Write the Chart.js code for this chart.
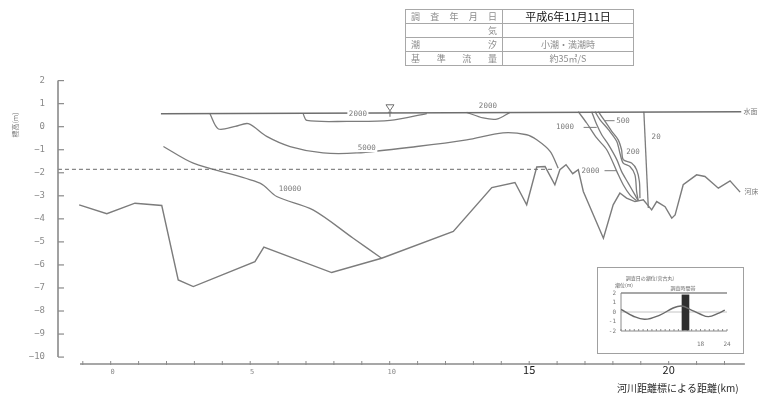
<!DOCTYPE html>
<html>
<head>
<meta charset="utf-8">
<script src="https://cdn.jsdelivr.net/npm/chart.js@4/dist/chart.umd.min.js"></script>
<style>
  html, body { margin: 0; padding: 0; background: #fff; }
  #wrap { position: relative; width: 758px; height: 394px; overflow: hidden; }
  #main { position: absolute; left: 0; top: 0; }
  #tide { position: absolute; left: 597px; top: 267px; }
  #info { position: absolute; left: 405px; top: 9px; border-collapse: collapse;
          font-family: "Noto Sans CJK JP", sans-serif; }
  #info td { border: 1px solid #a8a8a8; height: 13px; line-height: 13px; padding: 0 5px;
             font-size: 9px; color: #8c8c8c; white-space: nowrap; }
  #info td.lab { width: 86px; }
  #info td.val { width: 120px; text-align: center; }
  #info .sp { display: flex; justify-content: space-between; }
  #info .end { display: flex; justify-content: flex-end; }
  #info .date { color: #111; font-size: 11px; }
</style>
</head>
<body>
<div id="wrap">
  <canvas id="main" width="758" height="394"></canvas>
  <canvas id="tide" width="147" height="87"></canvas>
  <table id="info">
    <tr><td class="lab"><div class="sp"><span>調</span><span>査</span><span>年</span><span>月</span><span>日</span></div></td>
        <td class="val date">平成6年11月11日</td></tr>
    <tr><td class="lab"><div class="end"><span>気</span></div></td><td class="val"></td></tr>
    <tr><td class="lab"><div class="sp"><span>潮</span><span>汐</span></div></td><td class="val">小潮・満潮時</td></tr>
    <tr><td class="lab"><div class="sp"><span>基</span><span>準</span><span>流</span><span>量</span></div></td><td class="val">約35㎥/S</td></tr>
  </table>
</div>
<script>
// ---- longitudinal section: distance (km) vs elevation (m) ----
const yTicks = [2, 1, 0, -1, -2, -3, -4, -5, -6, -7, -8, -9, -10];
const kmTicks = [-1,0,1,2,3,4,5,6,7,8,9,10,11,12,13,14,15,16,17,18,19,20,21,22];
const kmLabels = [0, 5, 10, 15, 20];

const waterSurface = [[1.8, 0.56], [22.6, 0.65]];
const referenceLevel = [[-1.89, -1.85], [15.92, -1.85]];

const riverBed = [
  [-1.13,-3.39],[-0.14,-3.78],[0.87,-3.32],[1.83,-3.42],[2.42,-6.65],[2.96,-6.94],
  [5.17,-5.86],[5.49,-5.23],[7.92,-6.33],[9.71,-5.71],[12.28,-4.55],[13.66,-2.64],
  [14.49,-2.42],[14.91,-3.39],[15.27,-1.75],[15.57,-1.73],[15.92,-2.52],[16.10,-1.87],
  [16.32,-1.65],[16.56,-2.04],[16.76,-1.87],[16.94,-2.81],[17.66,-4.84],[18.01,-3.39],
  [18.25,-2.88],[18.49,-3.10],[18.79,-3.25],[19.09,-3.17],[19.39,-3.61],[19.57,-3.25],
  [19.87,-3.47],[20.11,-3.97],[20.23,-3.83],[20.52,-2.52],[21.00,-2.09],[21.30,-2.16],
  [21.78,-2.67],[22.20,-2.35],[22.56,-2.84]
];

// conductivity contours
const c10000 = [[1.89,-0.86],[2.96,-1.58],[5.35,-2.45],[5.95,-3.03],[7.25,-3.61],[8.68,-4.83],[9.71,-5.71]];
const c5000 = [[3.56,0.55],[3.86,-0.10],[4.46,0.01],[4.93,0.13],[5.59,-0.42],[6.43,-0.86],[7.61,-1.14],
  [8.82,-1.14],[10.97,-0.86],[12.76,-0.57],[14.06,-0.27],[14.91,-0.35],[15.27,-0.57],[15.75,-1.07],[16.04,-1.80]];
const c2000a = [[6.90,0.55],[7.03,0.27],[8.46,0.23],[10.01,0.27],[11.33,0.57]];
const c2000b = [[12.76,0.62],[13.35,0.38],[13.84,0.33],[14.31,0.62]];
const c2000c = [[16.76,0.65],[17.06,0.16],[17.42,-0.49],[17.78,-1.00],[18.14,-1.94],[18.37,-2.52],[18.61,-2.96],[18.85,-3.22]];
const c1000 = [[17.24,0.65],[17.42,0.09],[17.60,-0.35],[17.84,-0.78],[18.14,-1.43],[18.31,-1.94],[18.55,-2.45],[18.79,-2.96],[18.91,-3.22]];
const c500 = [[17.36,0.65],[17.54,0.30],[17.84,-0.13],[18.14,-0.64],[18.25,-1.14],[18.37,-1.58],[18.61,-1.73],[18.79,-2.09],[18.85,-2.81],[18.91,-3.22]];
const c200 = [[17.48,0.65],[17.72,0.23],[17.96,-0.20],[18.19,-0.57],[18.31,-1.00],[18.37,-1.43],[18.67,-1.58],[18.85,-1.87],[18.95,-2.38],[18.97,-3.10]];
const c20 = [[19.11,0.65],[19.27,-3.53]];

// contour value labels (text, anchor km, anchor m, optional leader span in km)
const contourLabels = [
  { text: '10000', x: 6.43, y: -2.72 },
  { text: '5000',  x: 9.18, y: -0.93, mask: true },
  { text: '2000',  x: 8.86, y: 0.57, mask: true },
  { text: '2000',  x: 13.52, y: 0.90 },
  { text: '1000',  x: 16.28, y: -0.03, lead: [16.95, 17.42] },
  { text: '500',   x: 18.36, y: 0.26, lead: [17.70, 18.06] },
  { text: '200',   x: 18.72, y: -1.10, mask: true },
  { text: '2000',  x: 17.20, y: -1.91, lead: [17.70, 18.12] },
  { text: '20',    x: 19.55, y: -0.47 }
];

const LINE = '#7c7c7c';
const pts = a => a.map(p => ({ x: p[0], y: p[1] }));
const series = (data, opts = {}) => Object.assign({
  data: pts(data), borderColor: LINE, borderWidth: 1.3, pointRadius: 0,
  tension: 0.3, fill: false
}, opts);

const sectionDecor = {
  id: 'sectionDecor',
  afterDatasetsDraw(chart) {
    const { ctx, chartArea, scales: { x, y } } = chart;
    const X = v => x.getPixelForValue(v), Y = v => y.getPixelForValue(v);
    ctx.save();

    // vertical axis with inward ticks
    const ax = chartArea.left;
    ctx.strokeStyle = '#8a8a8a'; ctx.lineWidth = 1.6;
    ctx.beginPath(); ctx.moveTo(ax, Y(yTicks[0])); ctx.lineTo(ax, Y(yTicks[yTicks.length - 1])); ctx.stroke();
    ctx.lineWidth = 1.2;
    ctx.font = '9px "DejaVu Sans Mono"'; ctx.fillStyle = '#8a8a8a';
    ctx.textAlign = 'right'; ctx.textBaseline = 'middle';
    yTicks.forEach(v => {
      ctx.beginPath(); ctx.moveTo(ax, Y(v)); ctx.lineTo(ax + 6, Y(v)); ctx.stroke();
      ctx.fillText(v < 0 ? '\u2212' + Math.abs(v) : String(v), 45, Y(v));
    });

    // vertical axis title
    ctx.save();
    ctx.translate(15, 125); ctx.rotate(-Math.PI / 2);
    ctx.textAlign = 'center'; ctx.font = '7px "Noto Sans CJK JP"'; ctx.fillStyle = '#777';
    ctx.fillText('標高(m)', 0, 0);
    ctx.restore();

    // horizontal distance axis
    const by = chartArea.bottom;
    ctx.strokeStyle = '#8a8a8a'; ctx.lineWidth = 1.4;
    ctx.beginPath(); ctx.moveTo(X(-1.1), by); ctx.lineTo(X(22.73), by); ctx.stroke();
    ctx.lineWidth = 1;
    kmTicks.forEach(k => { ctx.beginPath(); ctx.moveTo(X(k), by - 3); ctx.lineTo(X(k), by + 1); ctx.stroke(); });
    ctx.textAlign = 'center'; ctx.textBaseline = 'middle';
    kmLabels.forEach(k => {
      if (k < 15) { ctx.font = '7px "DejaVu Sans Mono"'; ctx.fillStyle = '#8a8a8a'; ctx.fillText(String(k), X(k) + 2, by + 8); }
      else { ctx.font = '11px "Noto Sans CJK JP"'; ctx.fillStyle = '#1a1a1a'; ctx.fillText(String(k), X(k), by + 6); }
    });
    ctx.font = '10px "Noto Sans CJK JP"'; ctx.fillStyle = '#2a2a2a'; ctx.textAlign = 'left';
    ctx.fillText('河川距離標による距離(km)', 617, by + 24);

    // contour value labels
    ctx.font = '7.5px "DejaVu Sans Mono"';
    contourLabels.forEach(l => {
      const w = ctx.measureText(l.text).width;
      const cx = X(l.x), cy = Y(l.y);
      if (l.mask) { ctx.fillStyle = '#fff'; ctx.fillRect(cx - w / 2 - 1.5, cy - 4, w + 3, 8); }
      ctx.fillStyle = '#7a7a7a'; ctx.textAlign = 'center'; ctx.textBaseline = 'middle';
      ctx.fillText(l.text, cx, cy);
      if (l.lead) {
        ctx.strokeStyle = LINE; ctx.lineWidth = 1;
        ctx.beginPath(); ctx.moveTo(X(l.lead[0]), cy); ctx.lineTo(X(l.lead[1]), cy); ctx.stroke();
      }
    });

    // water level mark
    const mx = X(10.01), my = Y(waterSurface[0][1]);
    ctx.strokeStyle = '#6f6f6f'; ctx.lineWidth = 1;
    ctx.beginPath(); ctx.moveTo(mx - 4, my - 9); ctx.lineTo(mx + 4, my - 9); ctx.lineTo(mx, my - 3); ctx.closePath(); ctx.stroke();
    ctx.beginPath(); ctx.moveTo(mx - 2, my - 1.5); ctx.lineTo(mx + 2, my - 1.5); ctx.stroke();
    ctx.beginPath(); ctx.moveTo(mx, my - 3); ctx.lineTo(mx, my + 3); ctx.stroke();

    // line names at the right end
    ctx.font = '7px "Noto Sans CJK JP"'; ctx.fillStyle = '#7a7a7a'; ctx.textAlign = 'left';
    ctx.fillText('水面', X(22.68), Y(waterSurface[1][1]));
    ctx.fillText('河床', X(22.72), Y(riverBed[riverBed.length - 1][1]) - 1);
    ctx.restore();
  }
};

new Chart(document.getElementById('main'), {
  type: 'line',
  data: {
    datasets: [
      series(waterSurface, { tension: 0, borderWidth: 1.4, borderColor: '#6e6e6e' }),
      series(referenceLevel, { tension: 0, borderWidth: 1, borderDash: [4, 3], borderColor: '#6a6a6a' }),
      series(riverBed, { tension: 0, borderWidth: 1.4 }),
      series(c10000), series(c5000), series(c2000a), series(c2000b),
      series(c2000c), series(c1000), series(c500), series(c200),
      series(c20, { tension: 0 })
    ]
  },
  options: {
    responsive: false, animation: false, devicePixelRatio: 1,
    layout: { padding: { left: 58, right: 6, top: 76, bottom: 30 } },
    plugins: { legend: { display: false }, tooltip: { enabled: false } },
    scales: {
      x: { type: 'linear', min: -1.889, max: 22.986, display: false },
      y: { type: 'linear', min: -10.3, max: 2.2, display: false }
    }
  },
  plugins: [sectionDecor]
});

// ---- inset: tide level on the survey day ----
const tideHours = [0, 2.7, 5.4, 8.8, 11.8, 13.7, 15.6, 17.9, 19.8, 22.0, 23.5];
const tideLevel = [0.28, -0.42, -0.77, -0.32, 0.42, 0.63, 0.28, -0.21, -0.49, -0.14, 0.21];
const surveyWindow = [14.6, -1.9, 1.8];
const tideTicks = [2, 1, 0, -1, -2];
const tideHourLabels = [18, 24];

const tideDecor = {
  id: 'tideDecor',
  beforeDatasetsDraw(chart) {
    const { ctx, chartArea: a, scales: { x, y } } = chart;
    const X = v => x.getPixelForValue(v), Y = v => y.getPixelForValue(v);
    ctx.save();
    ctx.strokeStyle = '#a0a0a0'; ctx.lineWidth = 1;
    ctx.strokeRect(0.5, 0.5, chart.width - 1, chart.height - 1);
    ctx.strokeStyle = '#c4c4c4';
    ctx.beginPath(); ctx.moveTo(a.left, Y(0)); ctx.lineTo(a.right, Y(0)); ctx.stroke();
    ctx.strokeStyle = '#8a8a8a'; ctx.lineWidth = 1.6;
    ctx.beginPath(); ctx.moveTo(a.left, Y(2)); ctx.lineTo(a.right, Y(2)); ctx.stroke();
    ctx.lineWidth = 1;
    ctx.beginPath(); ctx.moveTo(a.left, Y(2)); ctx.lineTo(a.left, Y(-2)); ctx.lineTo(a.right, Y(-2)); ctx.stroke();
    for (let h = 0; h <= 24; h++) { ctx.beginPath(); ctx.moveTo(X(h), Y(-2) - 2); ctx.lineTo(X(h), Y(-2)); ctx.stroke(); }
    ctx.font = '6px "DejaVu Sans Mono"'; ctx.fillStyle = '#777';
    ctx.textAlign = 'right'; ctx.textBaseline = 'middle';
    tideTicks.forEach(v => ctx.fillText(v < 0 ? '-' + Math.abs(v) : String(v), a.left - 5, Y(v)));
    ctx.textAlign = 'center';
    tideHourLabels.forEach(h => ctx.fillText(String(h), X(h), Y(-2) + 13));
    ctx.font = '5px "Noto Sans CJK JP"'; ctx.fillStyle = '#666';
    ctx.fillText('調査日の潮位(宮古丸)', 53, 11);
    ctx.fillText('潮位(m)', 27, 18);
    ctx.fillText('調査時間帯', 86, 21);
    ctx.restore();
  }
};

new Chart(document.getElementById('tide'), {
  data: {
    datasets: [
      { type: 'line', data: tideHours.map((h, i) => ({ x: h, y: tideLevel[i] })),
        borderColor: '#6a6a6a', borderWidth: 1.4, pointRadius: 0, tension: 0.4 },
      { type: 'bar', data: [{ x: surveyWindow[0], y: [surveyWindow[1], surveyWindow[2]] }],
        backgroundColor: '#2e2e2e', barThickness: 7 }
    ]
  },
  options: {
    responsive: false, animation: false, devicePixelRatio: 1,
    layout: { padding: { left: 24, right: 17, top: 26, bottom: 23 } },
    plugins: { legend: { display: false }, tooltip: { enabled: false } },
    scales: {
      x: { type: 'linear', min: 0, max: 24, offset: false, grid: { offset: false }, display: false },
      y: { type: 'linear', min: -2, max: 2, display: false }
    }
  },
  plugins: [tideDecor]
});
</script>
</body>
</html>
